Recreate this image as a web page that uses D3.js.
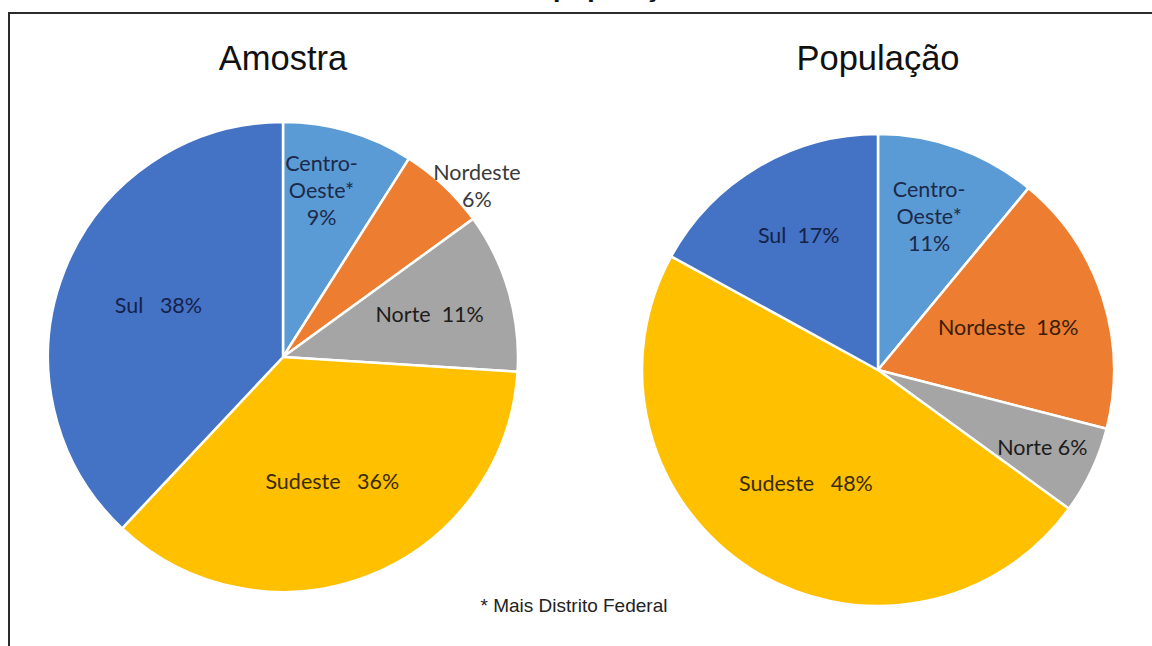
<!DOCTYPE html>
<html>
<head>
<meta charset="utf-8">
<script src="https://cdn.jsdelivr.net/npm/d3@7"></script>
<style>
  html, body { margin: 0; padding: 0; background: #fff; }
  svg { display: block; }
  text { white-space: pre; }
</style>
</head>
<body>
<svg id="chart" width="1152" height="646"></svg>
<script>
// Regional share of the sample vs. the population (percent)
const regions = ["Centro-Oeste", "Nordeste", "Norte", "Sudeste", "Sul"];
const amostraValues = [9, 6, 11, 36, 38];
const populacaoValues = [11, 18, 6, 48, 17];
const amostraLabels = [["Centro-", "Oeste*", "9%"], ["Nordeste", "6%"], ["Norte  11%"], ["Sudeste   36%"], ["Sul   38%"]];
const populacaoLabels = [["Centro-", "Oeste*", "11%"], ["Nordeste  18%"], ["Norte 6%"], ["Sudeste   48%"], ["Sul  17%"]];
const chartTitles = ["Amostra", "População"];
const footnote = "* Mais Distrito Federal";

const regionColors = {
  "Centro-Oeste": "#5b9bd5",
  "Nordeste": "#ed7d31",
  "Norte": "#a5a5a5",
  "Sudeste": "#ffc000",
  "Sul": "#4472c4"
};
const labelInk = {
  "Centro-Oeste": "#1b2a4a",
  "Nordeste": "#3b1d08",
  "Norte": "#1c1c1c",
  "Sudeste": "#3a2b02",
  "Sul": "#14224a"
};

const svg = d3.select("#chart");

// frame around the figure (open to the right and bottom)
svg.append("rect")
  .attr("x", 9).attr("y", 13)
  .attr("width", 1200).attr("height", 700)
  .attr("fill", "none")
  .attr("stroke", "#2b2b2b")
  .attr("stroke-width", 2);

// heading that sits above the visible area; only its descenders show
svg.append("text")
  .attr("x", 553).attr("y", -3)
  .attr("font-family", "Lato, 'Open Sans', sans-serif")
  .attr("font-weight", 700)
  .attr("font-size", 30)
  .attr("fill", "#111")
  .text("população");

// label placement: fraction of radius along the mid angle, plus small nudge
const layouts = [
  {
    cx: 283, cy: 357, r: 235, titleY: 70,
    values: amostraValues, labels: amostraLabels, title: chartTitles[0],
    place: [
      { k: 0.74, dx: -10, dy: 0 },
      { k: 1.10, dx: 17, dy: 17, ink: "#3a3a3a" },
      { k: 0.65, dx: 0, dy: 0 },
      { k: 0.57, dx: 0, dy: 0 },
      { k: 0.57, dx: 0, dy: -2 }
    ]
  },
  {
    cx: 878, cy: 370, r: 236, titleY: 70,
    values: populacaoValues, labels: populacaoLabels, title: chartTitles[1],
    place: [
      { k: 0.69, dx: -4, dy: 0 },
      { k: 0.58, dx: 0, dy: 0 },
      { k: 0.77, dx: 0, dy: 0 },
      { k: 0.57, dx: 0, dy: 0 },
      { k: 0.66, dx: 0, dy: 0 }
    ]
  }
];

const pie = d3.pie().sort(null).value(d => d.value);
const lineH = 27;

layouts.forEach(cfg => {
  const data = regions.map((name, i) => ({ name, value: cfg.values[i], label: cfg.labels[i], place: cfg.place[i] }));
  const arcs = pie(data);
  const arc = d3.arc().innerRadius(0).outerRadius(cfg.r);

  const g = svg.append("g").attr("transform", `translate(${cfg.cx},${cfg.cy})`);

  g.selectAll("path.slice")
    .data(arcs)
    .join("path")
    .attr("class", "slice")
    .attr("d", arc)
    .attr("fill", d => regionColors[d.data.name])
    .attr("stroke", "#ffffff")
    .attr("stroke-width", 2.5)
    .attr("stroke-linejoin", "round");

  arcs.forEach(a => {
    const p = a.data.place;
    const mid = (a.startAngle + a.endAngle) / 2;
    const rr = cfg.r * p.k;
    const x = Math.sin(mid) * rr + p.dx;
    const y = -Math.cos(mid) * rr + p.dy;
    const lines = a.data.label;
    const t = g.append("text")
      .attr("text-anchor", "middle")
      .attr("font-family", "Lato, 'Open Sans', sans-serif")
      .attr("font-size", 21.5)
      .attr("fill", p.ink || labelInk[a.data.name]);
    lines.forEach((ln, j) => {
      t.append("tspan")
        .attr("x", x)
        .attr("y", y + (j - (lines.length - 1) / 2) * lineH)
        .attr("dy", "0.35em")
        .text(ln);
    });
  });

  svg.append("text")
    .attr("x", cfg.cx)
    .attr("y", cfg.titleY)
    .attr("text-anchor", "middle")
    .attr("font-family", "'Liberation Sans', Arial, sans-serif")
    .attr("font-size", 34.5)
    .attr("fill", "#111")
    .text(cfg.title);
});

svg.append("text")
  .attr("x", 574).attr("y", 612)
  .attr("text-anchor", "middle")
  .attr("font-family", "'Liberation Sans', Arial, sans-serif")
  .attr("font-size", 19)
  .attr("fill", "#222")
  .text(footnote);
</script>
</body>
</html>
